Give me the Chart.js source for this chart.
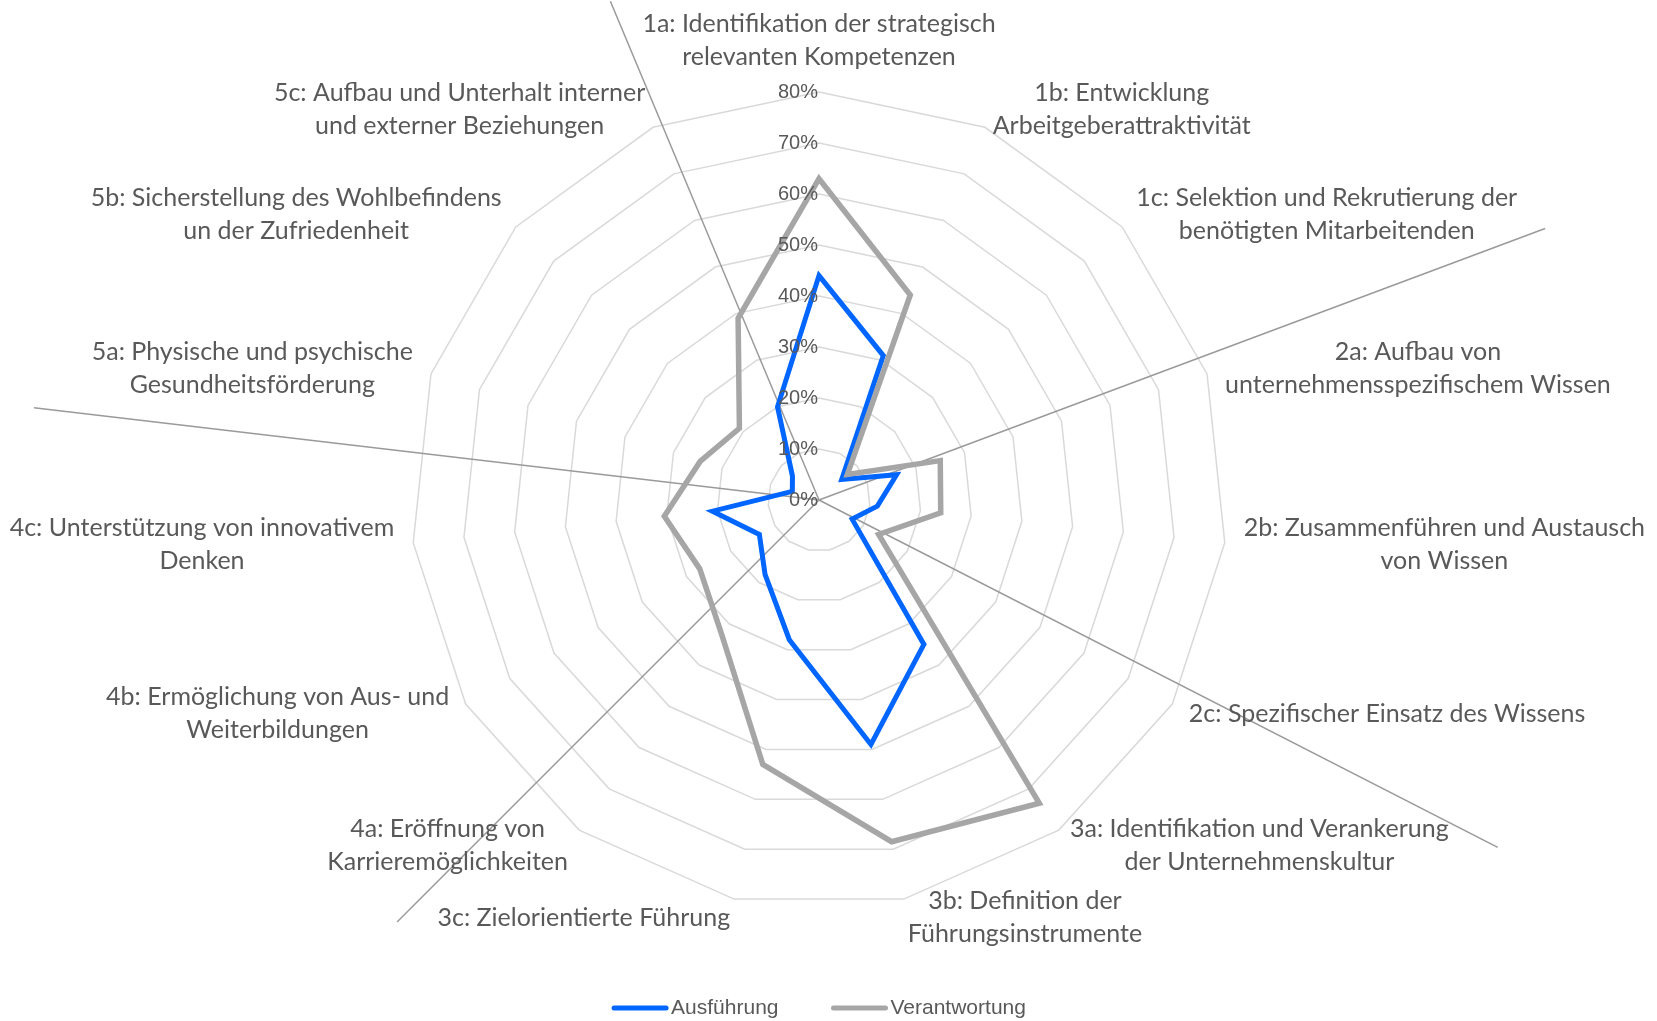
<!DOCTYPE html>
<html>
<head>
<meta charset="utf-8">
<script src="https://cdn.jsdelivr.net/npm/chart.js@4.4.0/dist/chart.umd.min.js"></script>
<style>
  html, body { margin: 0; padding: 0; background: #fff; }
  #wrap { width: 1657px; height: 1021px; }
</style>
</head>
<body>
<div id="wrap"><canvas id="radarChart"></canvas></div>
<script>
var categories = [
    ['1a: Identifikation der strategisch', 'relevanten Kompetenzen'],
    ['1b: Entwicklung', 'Arbeitgeberattraktivität'],
    ['1c: Selektion und Rekrutierung der', 'benötigten Mitarbeitenden'],
    ['2a: Aufbau von', 'unternehmensspezifischem Wissen'],
    ['2b: Zusammenführen und Austausch', 'von Wissen'],
    ['2c: Spezifischer Einsatz des Wissens'],
    ['3a: Identifikation und Verankerung', 'der Unternehmenskultur'],
    ['3b: Definition der', 'Führungsinstrumente'],
    ['3c: Zielorientierte Führung'],
    ['4a: Eröffnung von', 'Karrieremöglichkeiten'],
    ['4b: Ermöglichung von Aus- und', 'Weiterbildungen'],
    ['4c: Unterstützung von innovativem', 'Denken'],
    ['5a: Physische und psychische', 'Gesundheitsförderung'],
    ['5b: Sicherstellung des Wohlbefindens', 'un der Zufriedenheit'],
    ['5c: Aufbau und Unterhalt interner', 'und externer Beziehungen']
];
var ausfuehrung   = [44, 31, 6, 16, 11.5, 7.5, 35, 49, 28, 18, 13.5, 21, 5.5, 7, 20];
var verantwortung = [63, 44, 7.5, 25, 24, 13.5, 73.5, 68.5, 53, 32.5, 27, 30.5, 24.5, 21, 39];
var tickValues = [0, 10, 20, 30, 40, 50, 60, 70, 80];

// group separator lines: angle (deg, clockwise from top) and length in % units
var separatorAngles  = [337.3, 69.5, 117.1, 225, 276.7];
var separatorLengths = [106, 152, 149.5, 117, 155];

var textGray = '#595959';
var labelFont = '25px Lato';
var tickFont = '20px "Liberation Sans", Arial, sans-serif';
var legendFont = '21px "Liberation Sans", Arial, sans-serif';

var radarDecor = {
    id: 'radarDecor',
    beforeDatasetsDraw: function (chart) {
        var r = chart.scales.r, ctx = chart.ctx;
        ctx.save();
        ctx.strokeStyle = '#9a9a9a';
        ctx.lineWidth = 1.5;
        separatorAngles.forEach(function (a, i) {
            var rad = a * Math.PI / 180;
            var len = r.getDistanceFromCenterForValue(separatorLengths[i]);
            ctx.beginPath();
            ctx.moveTo(r.xCenter, r.yCenter);
            ctx.lineTo(r.xCenter + Math.sin(rad) * len, r.yCenter - Math.cos(rad) * len);
            ctx.stroke();
        });
        ctx.restore();
    },
    afterDatasetsDraw: function (chart) {
        var r = chart.scales.r, ctx = chart.ctx;
        ctx.save();
        // tick labels, right aligned on the first axis
        ctx.font = tickFont;
        ctx.fillStyle = textGray;
        ctx.textAlign = 'right';
        ctx.textBaseline = 'middle';
        r.ticks.forEach(function (t) {
            ctx.fillText(t.value + '%', r.xCenter - 1, r.yCenter - r.getDistanceFromCenterForValue(t.value));
        });

        // category labels, lines centered inside their block
        ctx.font = labelFont;
        ctx.textAlign = 'center';
        var lh = 33;
        categories.forEach(function (lines, i) {
            var p = r.getPointPosition(i, r.drawingArea + 19);
            var deg = i * 360 / categories.length;
            var w = Math.max.apply(null, lines.map(function (s) { return ctx.measureText(s).width; }));
            var h = lines.length * lh;
            var cx, top;
            if (deg === 0) { cx = p.x; top = p.y - h; }
            else if (deg < 180) { cx = p.x + w / 2; top = p.y - h / 2; }
            else { cx = p.x - w / 2; top = p.y - h / 2; }
            lines.forEach(function (s, j) {
                ctx.fillText(s, cx, top + lh * (j + 0.5));
            });
        });

        // legend
        ctx.font = legendFont;
        ctx.textAlign = 'left';
        ctx.lineCap = 'round';
        var ly = 1008, lineLen = 56, gapText = 3, gapItem = 53;
        var items = [chart.data.datasets[0], chart.data.datasets[1]];
        var total = 0;
        items.forEach(function (d, i) {
            total += lineLen + gapText + ctx.measureText(d.label).width + (i ? 0 : gapItem);
        });
        var x = r.xCenter - total / 2;
        items.forEach(function (d) {
            ctx.strokeStyle = d.borderColor;
            ctx.lineWidth = 5;
            ctx.beginPath();
            ctx.moveTo(x + 2, ly);
            ctx.lineTo(x + lineLen - 2, ly);
            ctx.stroke();
            x += lineLen + gapText;
            ctx.fillText(d.label, x, ly);
            x += ctx.measureText(d.label).width + gapItem;
        });
        ctx.restore();
    }
};

var ctx = document.getElementById('radarChart').getContext('2d');
var myChart = new Chart(ctx, {
    type: 'radar',
    data: {
        labels: categories.map(function (c) { return c.join(' '); }),
        datasets: [{
            label: 'Ausführung',
            data: ausfuehrung,
            borderColor: '#0066ff',
            backgroundColor: 'rgba(0,0,0,0)',
            borderWidth: 5,
            pointRadius: 0,
            fill: false,
            order: 1
        }, {
            label: 'Verantwortung',
            data: verantwortung,
            borderColor: '#a6a6a6',
            backgroundColor: 'rgba(0,0,0,0)',
            borderWidth: 5.5,
            pointRadius: 0,
            fill: false,
            order: 0
        }]
    },
    options: {
        responsive: true,
        maintainAspectRatio: false,
        animation: false,
        layout: { padding: { top: 92, bottom: 113, left: 0, right: 19 } },
        plugins: {
            legend: { display: false },
            tooltip: { enabled: false }
        },
        scales: {
            r: {
                min: 0,
                max: 80,
                afterBuildTicks: function (scale) {
                    scale.ticks = tickValues.map(function (v) { return { value: v }; });
                },
                ticks: { display: false, stepSize: 10 },
                grid: { color: '#d9d9d9', lineWidth: 1.5 },
                angleLines: { display: false },
                pointLabels: { display: false }
            }
        }
    },
    plugins: [radarDecor]
});
</script>
</body>
</html>
